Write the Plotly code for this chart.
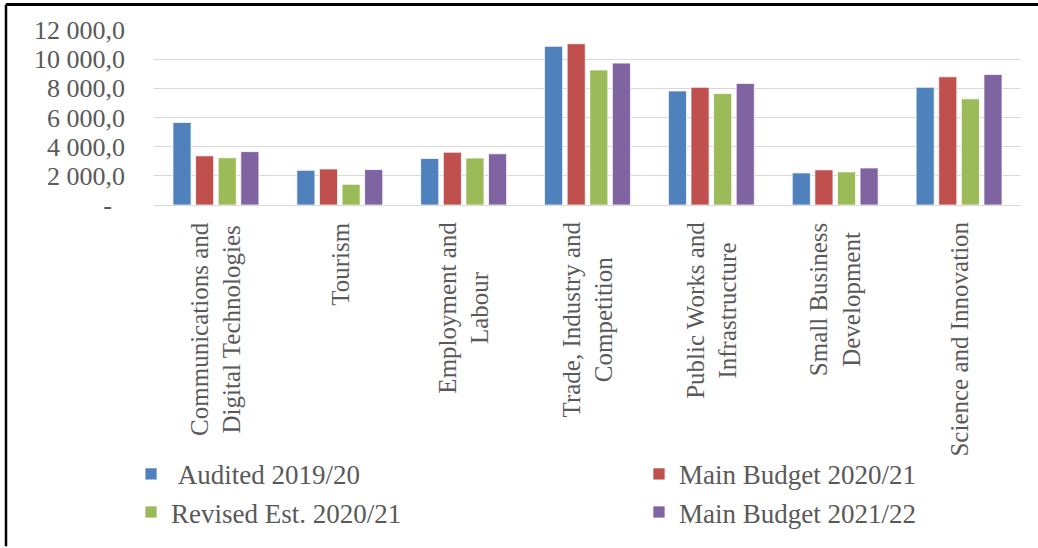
import plotly.graph_objects as go

# Departmental budget allocations (R million)
categories = [
    "Communications and<br>Digital Technologies",
    "Tourism",
    "Employment and<br>Labour",
    "Trade, Industry and<br>Competition",
    "Public Works and<br>Infrastructure",
    "Small Business<br>Development",
    "Science and Innovation",
]
series_names = [
    "\u00a0Audited 2019/20",
    "Main Budget 2020/21",
    "Revised Est. 2020/21",
    "Main Budget 2021/22",
]
audited_2019_20 = [5660, 2380, 3190, 10880, 7820, 2200, 8070]
main_budget_2020_21 = [3370, 2470, 3620, 11060, 8070, 2410, 8790]
revised_est_2020_21 = [3240, 1420, 3220, 9260, 7640, 2270, 7280]
main_budget_2021_22 = [3660, 2430, 3510, 9730, 8340, 2540, 8950]

y_ticks = [0, 2000, 4000, 6000, 8000, 10000, 12000]

colors = ["#4F81BD", "#C0504D", "#9BBB59", "#8064A2"]
# left legend column holds series 0 and 2, right column series 1 and 3
legend_ids = ["legend", "legend2", "legend", "legend2"]
text_color = "#595959"
font_family = "Liberation Serif"


def fmt_tick(v):
    if v == 0:
        return "-\u00a0\u00a0"
    return f"{v:,.1f}".replace(",", " ").replace(".", ",")


fig = go.Figure()
for name, vals, col, lg in zip(
    series_names,
    [audited_2019_20, main_budget_2020_21, revised_est_2020_21, main_budget_2021_22],
    colors,
    legend_ids,
):
    fig.add_trace(
        go.Bar(
            x=categories,
            y=vals,
            name=name,
            legend=lg,
            marker=dict(color=col, line=dict(color="rgba(255,255,255,0.75)", width=1)),
        )
    )

# Rotated category labels, lines centred on each other
for cat in categories:
    fig.add_annotation(
        x=cat,
        y=0,
        xref="x",
        yref="y",
        text=cat,
        textangle=-90,
        showarrow=False,
        xanchor="center",
        yanchor="top",
        yshift=-15,
        align="center",
        font=dict(family=font_family, size=25, color=text_color),
    )

# Frame lines along the top and left edges
fig.add_shape(type="line", xref="paper", yref="paper",
              x0=-0.1707, x1=1.0196, y0=1.1455, y1=1.1455,
              line=dict(color="black", width=3))
fig.add_shape(type="line", xref="paper", yref="paper",
              x0=-0.1707, x1=-0.1707, y0=1.1455, y1=-1.95,
              line=dict(color="black", width=2.5))

legend_style = dict(
    orientation="v",
    xanchor="left",
    yanchor="top",
    y=-1.399,
    font=dict(family=font_family, size=27, color=text_color),
    bgcolor="rgba(0,0,0,0)",
    itemclick=False,
    itemwidth=30,
)

fig.update_layout(
    width=1038,
    height=548,
    margin=dict(l=154, r=17, t=30, b=340),
    paper_bgcolor="white",
    plot_bgcolor="white",
    barmode="group",
    bargap=0.27,
    bargroupgap=0.2,
    font=dict(family=font_family, size=25, color=text_color),
    showlegend=True,
    legend=dict(x=-0.0265, **legend_style),
    legend2=dict(x=0.5594, **legend_style),
    xaxis=dict(
        showticklabels=False,
        showgrid=False,
        showline=False,
        ticks="",
        fixedrange=True,
    ),
    yaxis=dict(
        range=[0, 12000],
        tickvals=y_ticks,
        ticktext=[fmt_tick(v) for v in y_ticks],
        showgrid=True,
        gridcolor="#D9D9D9",
        gridwidth=1.3,
        zeroline=True,
        zerolinecolor="#D9D9D9",
        zerolinewidth=1.3,
        ticks="",
        ticklabelstandoff=28,
        tickfont=dict(family=font_family, size=26, color=text_color),
        fixedrange=True,
    ),
)

fig.write_html("out.html")
